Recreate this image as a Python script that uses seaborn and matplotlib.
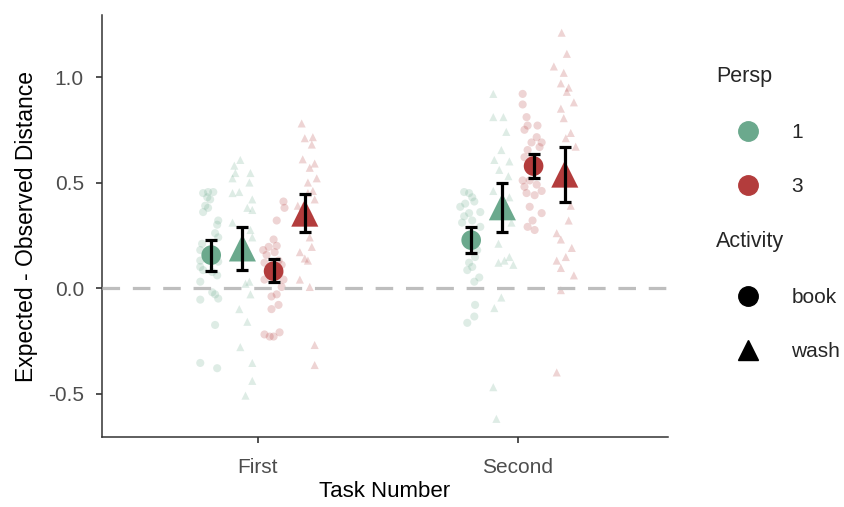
import numpy as np
import pandas as pd
import matplotlib
matplotlib.use("Agg")
import matplotlib.pyplot as plt
from matplotlib.lines import Line2D
import seaborn as sns

# ---------------- data ----------------
tasks = ["First", "Second"]
persp_levels = ["1", "3"]
activity_levels = ["book", "wash"]

# raw observations per group (task, persp, activity)
y_F_1_book = [0.45, 0.455, 0.455, 0.43, 0.42, 0.39, 0.38, 0.36, 0.32, 0.30, 0.26, 0.24, 0.21, 0.18,
              0.13, 0.125, 0.10, 0.085, 0.076, 0.06, 0.03, -0.02, -0.03, -0.05, -0.055, -0.175, -0.355, -0.38]
j_F_1_book = [-0.031, -0.012, 0.008, -0.015, -0.004, -0.023, -0.012, -0.031, 0.027, 0.023, 0.015, 0.027, -0.035, -0.042,
              -0.042, 0.027, -0.042, -0.031, 0.004, 0.023, -0.042, 0.004, 0.015, 0.027, -0.042, 0.015, -0.042, 0.023]

y_F_1_wash = [0.607, 0.58, 0.545, 0.545, 0.52, 0.50, 0.45, 0.455, 0.42, 0.38, 0.37, 0.31, 0.275, 0.24, 0.17,
              0.147, 0.03, 0.02, -0.03, -0.10, -0.16, -0.28, -0.355, -0.44, -0.51]
j_F_1_wash = [-0.008, -0.031, -0.027, 0.031, -0.038, 0.027, -0.038, -0.012, 0.038, 0.019, 0.038, -0.038, 0.031, 0.038, 0.019,
              -0.019, 0.027, 0.012, 0.031, -0.012, 0.019, -0.008, 0.038, 0.038, 0.012]

y_F_3_book = [0.41, 0.38, 0.32, 0.23, 0.195, 0.20, 0.157, 0.17, 0.13, 0.11, 0.07, 0.04, 0.005, -0.03, -0.04,
              -0.08, -0.10, -0.23, -0.22, -0.23, -0.21, 0.18, 0.12, 0.04]
j_F_3_book = [0.038, 0.042, 0.012, 0.0, -0.019, 0.012, -0.027, 0.004, 0.019, 0.031, 0.023, 0.038, 0.031, 0.012, -0.008,
              0.019, -0.008, -0.015, -0.035, 0.0, 0.023, -0.040, -0.035, -0.035]

y_F_3_wash = [0.78, 0.71, 0.715, 0.68, 0.61, 0.59, 0.57, 0.52, 0.50, 0.46, 0.45, 0.42, 0.39, 0.385, 0.355,
              0.24, 0.195, 0.17, 0.14, 0.13, 0.04, 0.005, -0.27, -0.365]
j_F_3_wash = [-0.012, 0.0, 0.031, 0.027, -0.008, 0.038, 0.019, 0.046, 0.012, 0.031, 0.012, 0.038, -0.027, -0.008, 0.019,
              0.019, 0.027, -0.019, 0.0, 0.012, -0.019, 0.019, 0.038, 0.038]

y_S_1_book = [0.455, 0.45, 0.43, 0.40, 0.41, 0.385, 0.355, 0.36, 0.34, 0.32, 0.31, 0.29, 0.18, 0.147, 0.12,
              0.10, 0.085, 0.05, 0.03, -0.08, -0.135, -0.165]
j_S_1_book = [-0.027, -0.008, 0.004, -0.023, 0.012, -0.042, -0.008, 0.035, -0.027, 0.004, -0.035, 0.035, 0.023, 0.015, -0.008,
              0.004, -0.015, 0.031, 0.012, 0.015, 0.012, -0.015]

y_S_1_wash = [0.92, 0.81, 0.81, 0.74, 0.654, 0.607, 0.60, 0.56, 0.53, 0.46, 0.43, 0.345, 0.31, 0.21, 0.12,
              0.13, 0.147, 0.11, -0.045, -0.095, -0.47, -0.62]
j_S_1_wash = [-0.035, -0.035, 0.004, 0.015, -0.004, -0.031, 0.027, -0.012, 0.023, -0.035, 0.027, -0.031, 0.035, -0.015, -0.015,
              0.008, 0.027, 0.042, -0.004, -0.031, -0.035, -0.023]

y_S_3_book = [0.92, 0.87, 0.81, 0.77, 0.77, 0.75, 0.715, 0.69, 0.69, 0.654, 0.668, 0.62, 0.616, 0.51, 0.51,
              0.48, 0.49, 0.45, 0.44, 0.46, 0.385, 0.355, 0.32, 0.29, 0.275]
j_S_3_book = [-0.042, -0.042, -0.027, -0.023, 0.015, -0.035, 0.012, -0.008, 0.031, -0.023, 0.023, -0.035, -0.004, -0.042, -0.015,
              -0.035, 0.012, -0.027, 0.004, 0.031, -0.015, 0.031, -0.004, -0.023, 0.004]

y_S_3_wash = [1.21, 1.11, 1.05, 1.02, 0.97, 0.95, 0.93, 0.88, 0.85, 0.805, 0.735, 0.71, 0.67, 0.39, 0.32,
              0.26, 0.23, 0.19, 0.147, 0.13, 0.095, 0.06, -0.01, -0.40]
j_S_3_wash = [-0.012, 0.008, -0.042, -0.004, -0.015, 0.015, 0.008, 0.035, -0.015, -0.004, 0.023, 0.004, 0.042, 0.023, 0.015,
              -0.031, -0.015, 0.027, 0.004, -0.031, -0.015, 0.035, -0.015, -0.031]

# summary estimates (mean and interval), order: F1book, F1wash, F3book, F3wash, S1book, S1wash, S3book, S3wash
mean_task = ["First", "First", "First", "First", "Second", "Second", "Second", "Second"]
mean_persp = ["1", "1", "3", "3", "1", "1", "3", "3"]
mean_activity = ["book", "wash", "book", "wash", "book", "wash", "book", "wash"]
mean_val = [0.156, 0.19, 0.08, 0.355, 0.227, 0.385, 0.578, 0.54]
ci_low = [0.08, 0.085, 0.03, 0.265, 0.166, 0.265, 0.52, 0.41]
ci_high = [0.227, 0.29, 0.137, 0.445, 0.29, 0.50, 0.635, 0.67]

# ---------------- build frames ----------------
raw_groups = [
    ("First", "1", "book", y_F_1_book, j_F_1_book),
    ("First", "1", "wash", y_F_1_wash, j_F_1_wash),
    ("First", "3", "book", y_F_3_book, j_F_3_book),
    ("First", "3", "wash", y_F_3_wash, j_F_3_wash),
    ("Second", "1", "book", y_S_1_book, j_S_1_book),
    ("Second", "1", "wash", y_S_1_wash, j_S_1_wash),
    ("Second", "3", "book", y_S_3_book, j_S_3_book),
    ("Second", "3", "wash", y_S_3_wash, j_S_3_wash),
]
dodge = {("1", "book"): -0.18, ("1", "wash"): -0.06, ("3", "book"): 0.06, ("3", "wash"): 0.18}
task_pos = {t: i for i, t in enumerate(tasks)}

rows = []
for t, p, a, ys, js in raw_groups:
    for y, j in zip(ys, js):
        rows.append(dict(Task=t, Persp=p, Activity=a, y=y,
                         x=task_pos[t] + dodge[(p, a)] + j))
raw = pd.DataFrame(rows)

summ = pd.DataFrame(dict(Task=mean_task, Persp=mean_persp, Activity=mean_activity,
                         y=mean_val, lo=ci_low, hi=ci_high))
summ["x"] = [task_pos[t] + dodge[(p, a)] for t, p, a in zip(summ.Task, summ.Persp, summ.Activity)]

# ---------------- style ----------------
sns.set_theme(style="ticks")
plt.rcParams["font.family"] = ["Liberation Sans", "DejaVu Sans"]

green = "#6BA98D"
red = "#B33C3C"
palette = {"1": green, "3": red}
markers = {"book": "o", "wash": "^"}

fig = plt.figure(figsize=(8.44, 5.07), dpi=100)
ax = fig.add_axes([102 / 844, 70 / 507, 566 / 844, 422 / 507])

sns.scatterplot(data=raw, x="x", y="y", hue="Persp", style="Activity", palette=palette,
                markers=markers, hue_order=persp_levels, style_order=activity_levels,
                s=34, alpha=0.22, linewidth=0, legend=False, ax=ax, zorder=2)

ax.axhline(0, color="#BEBEBE", lw=2.3, ls=(0, (5.5, 4)), zorder=3)

summ_c = summ[summ.Activity == "book"]
summ_t = summ[summ.Activity == "wash"]
sns.scatterplot(data=summ_c, x="x", y="y", hue="Persp", palette=palette, marker="o",
                s=200, linewidth=0, legend=False, ax=ax, zorder=4)
sns.scatterplot(data=summ_t, x="x", y="y", hue="Persp", palette=palette, marker="^",
                s=380, linewidth=0, legend=False, ax=ax, zorder=4)

ax.errorbar(summ.x, summ.y, yerr=[summ.y - summ.lo, summ.hi - summ.y], fmt="none",
            ecolor="black", elinewidth=2.3, capsize=4, capthick=2.3, zorder=5)

ax.set_xlim(-0.6, 1.577)
ax.set_ylim(-0.706, 1.294)
ax.set_xticks([0, 1])
ax.set_xticklabels(tasks)
ax.set_yticks([-0.5, 0.0, 0.5, 1.0])
ax.set_yticklabels(["-0.5", "0.0", "0.5", "1.0"])
ax.tick_params(axis="both", labelsize=15, labelcolor="#4D4D4D", color="#333333",
               length=4, width=1.2)
ax.tick_params(axis="x", pad=11)
ax.tick_params(axis="y", pad=9)
ax.set_xlabel("Task Number", fontsize=16, color="black", labelpad=3)
ax.set_ylabel("Expected - Observed Distance", fontsize=16.5, color="black", labelpad=7)
for s in ["top", "right"]:
    ax.spines[s].set_visible(False)
for s in ["left", "bottom"]:
    ax.spines[s].set_color("#333333")
    ax.spines[s].set_linewidth(1.1)

# legends
h1 = [Line2D([], [], ls="", marker="o", ms=14, mfc=palette[p], mec=palette[p]) for p in persp_levels]
h2 = [Line2D([], [], ls="", marker=markers[a], ms=14, mfc="black", mec="black") for a in activity_levels]
common = dict(frameon=False, fontsize=15, title_fontsize=15.5, loc="upper left", borderpad=0,
              handlelength=3.0, handletextpad=0.6, labelspacing=1.7, alignment="left")
leg1 = fig.legend(h1, persp_levels, title="Persp", bbox_to_anchor=(706 / 844, 1 - 56 / 507), **common)
leg2 = fig.legend(h2, activity_levels, title="Activity", bbox_to_anchor=(706 / 844, 1 - 221 / 507), **common)

fig.savefig("out.png", dpi=100)
